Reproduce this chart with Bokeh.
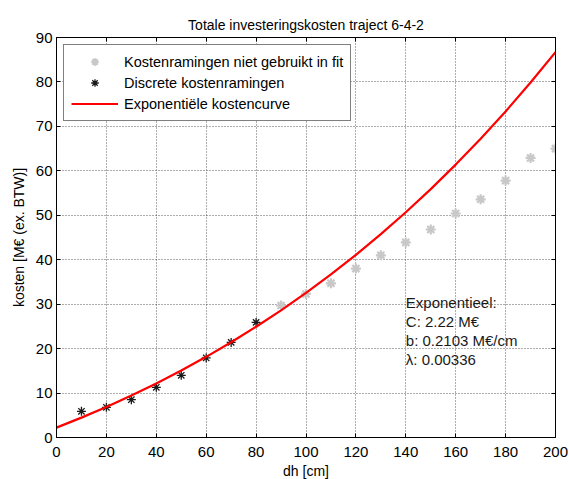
from bokeh.plotting import figure
from bokeh.models import (ColumnDataSource, LinearAxis, FixedTicker, Legend, LegendItem, Range1d)
from bokeh.core.properties import value
from bokeh.embed import file_html
from bokeh.resources import INLINE

# ---- data ----
x_fit = [10, 20, 30, 40, 50, 60, 70, 80]
y_fit = [5.9, 6.8, 8.5, 11.3, 14.0, 17.9, 21.4, 25.9]

x_unused = [90, 100, 110, 120, 130, 140, 150, 160, 170, 180, 190, 200]
y_unused = [29.7, 32.3, 34.7, 38.0, 41.0, 43.9, 46.8, 50.4, 53.6, 57.8, 62.9, 65.0]

x_curve = [0, 10, 20, 30, 40, 50, 60, 70, 80, 90, 100, 110, 120, 130, 140, 150, 160, 170, 180, 190, 200]
y_curve = [2.22, 4.47, 6.87, 9.43, 12.16, 15.06, 18.15, 21.43, 24.92, 28.61, 32.53, 36.69,
           41.09, 45.75, 50.68, 55.89, 61.40, 67.22, 73.37, 79.86, 86.71]

x_ticks = [0, 20, 40, 60, 80, 100, 120, 140, 160, 180, 200]
y_ticks = [0, 10, 20, 30, 40, 50, 60, 70, 80, 90]

title_text = "Totale investeringskosten traject 6-4-2"
x_label = "dh [cm]"
y_label = "kosten [M€ (ex. BTW)]"
legend_labels = ["Kostenramingen niet gebruikt in fit", "Discrete kostenramingen", "Exponentiële kostencurve"]
annot_lines = ["Exponentieel:", "C: 2.22 M€", "b: 0.2103 M€/cm", "λ: 0.00336"]

FONT = "Liberation Sans"

p = figure(width=569, height=484, output_backend="svg", toolbar_location=None,
           x_range=Range1d(0, 200), y_range=Range1d(0, 90),
           min_border_left=56, min_border_right=14, min_border_top=37, min_border_bottom=47)

p.title.text = title_text
p.title.align = "center"
p.title.text_font = FONT
p.title.text_font_size = "14px"
p.title.text_font_style = "normal"
p.title.text_color = "black"
p.title.standoff = 10

p.outline_line_color = "black"
p.outline_line_width = 1

# axes
for ax in [p.xaxis[0], p.yaxis[0]]:
    ax.major_label_text_font = FONT
    ax.major_label_text_font_size = "15px"
    ax.major_label_text_color = "black"
    ax.axis_label_text_font = FONT
    ax.axis_label_text_font_size = "14px"
    ax.axis_label_text_font_style = "normal"
    ax.axis_label_text_color = "black"
    ax.major_tick_in = 4
    ax.major_tick_out = 0
    ax.minor_tick_line_color = None
    ax.axis_line_color = "black"
    ax.major_tick_line_color = "black"

p.xaxis[0].ticker = FixedTicker(ticks=x_ticks)
p.yaxis[0].ticker = FixedTicker(ticks=y_ticks)
p.xaxis[0].axis_label = x_label
p.yaxis[0].axis_label = y_label
p.xaxis[0].major_label_standoff = 9
p.xaxis[0].axis_label_standoff = 3
p.yaxis[0].major_label_standoff = 4
p.yaxis[0].axis_label_standoff = 6

top_ax = LinearAxis(ticker=FixedTicker(ticks=x_ticks), major_label_text_font_size="0px",
                    major_tick_in=4, major_tick_out=0, minor_tick_line_color=None,
                    major_label_standoff=0, axis_line_color="black")
right_ax = LinearAxis(ticker=FixedTicker(ticks=y_ticks), major_label_text_font_size="0px",
                      major_tick_in=4, major_tick_out=0, minor_tick_line_color=None,
                      major_label_standoff=0, axis_line_color="black")
p.add_layout(top_ax, "above")
p.add_layout(right_ax, "right")

# grid
p.xgrid.ticker = FixedTicker(ticks=x_ticks)
p.ygrid.ticker = FixedTicker(ticks=y_ticks)
for g in [p.xgrid[0], p.ygrid[0]]:
    g.grid_line_color = "#333333"
    g.grid_line_dash = "1 2"
    g.grid_line_width = 1
    g.grid_line_alpha = 0.8

# glyphs
src_unused = ColumnDataSource(dict(x=x_unused, y=y_unused))
src_fit = ColumnDataSource(dict(x=x_fit, y=y_fit))
src_curve = ColumnDataSource(dict(x=x_curve, y=y_curve))

r_unused = p.scatter("x", "y", source=src_unused, marker="asterisk", size=10,
                     line_color="#c8c8c8", line_width=2.2)
r_fit = p.scatter("x", "y", source=src_fit, marker="asterisk", size=9,
                  line_color="#1a1a1a", line_width=1.3)
r_curve = p.line("x", "y", source=src_curve, line_color="#ff0000", line_width=2.2)

# annotation text
ann = ColumnDataSource(dict(x=[140] * len(annot_lines), y=[30.4] * len(annot_lines),
                            t=annot_lines, off=[i * 19 for i in range(len(annot_lines))]))
p.text("x", "y", text="t", source=ann, y_offset="off", text_font=value(FONT),
       text_font_size="15px", text_baseline="middle", text_align="left", text_color="#1a1a1a")

legend = Legend(items=[LegendItem(label=legend_labels[0], renderers=[r_unused]),
                       LegendItem(label=legend_labels[1], renderers=[r_fit]),
                       LegendItem(label=legend_labels[2], renderers=[r_curve])],
                location="top_left")
legend.margin = 7
legend.padding = 7
legend.spacing = 2
legend.glyph_width = 47
legend.glyph_height = 19
legend.label_height = 19
legend.label_standoff = 6
legend.label_text_font = FONT
legend.label_text_font_size = "14.5px"
legend.label_text_color = "black"
legend.border_line_color = "black"
legend.border_line_width = 1
legend.background_fill_color = "white"
legend.background_fill_alpha = 1
p.add_layout(legend, "center")

open("out.html", "w").write(file_html(p, INLINE))
